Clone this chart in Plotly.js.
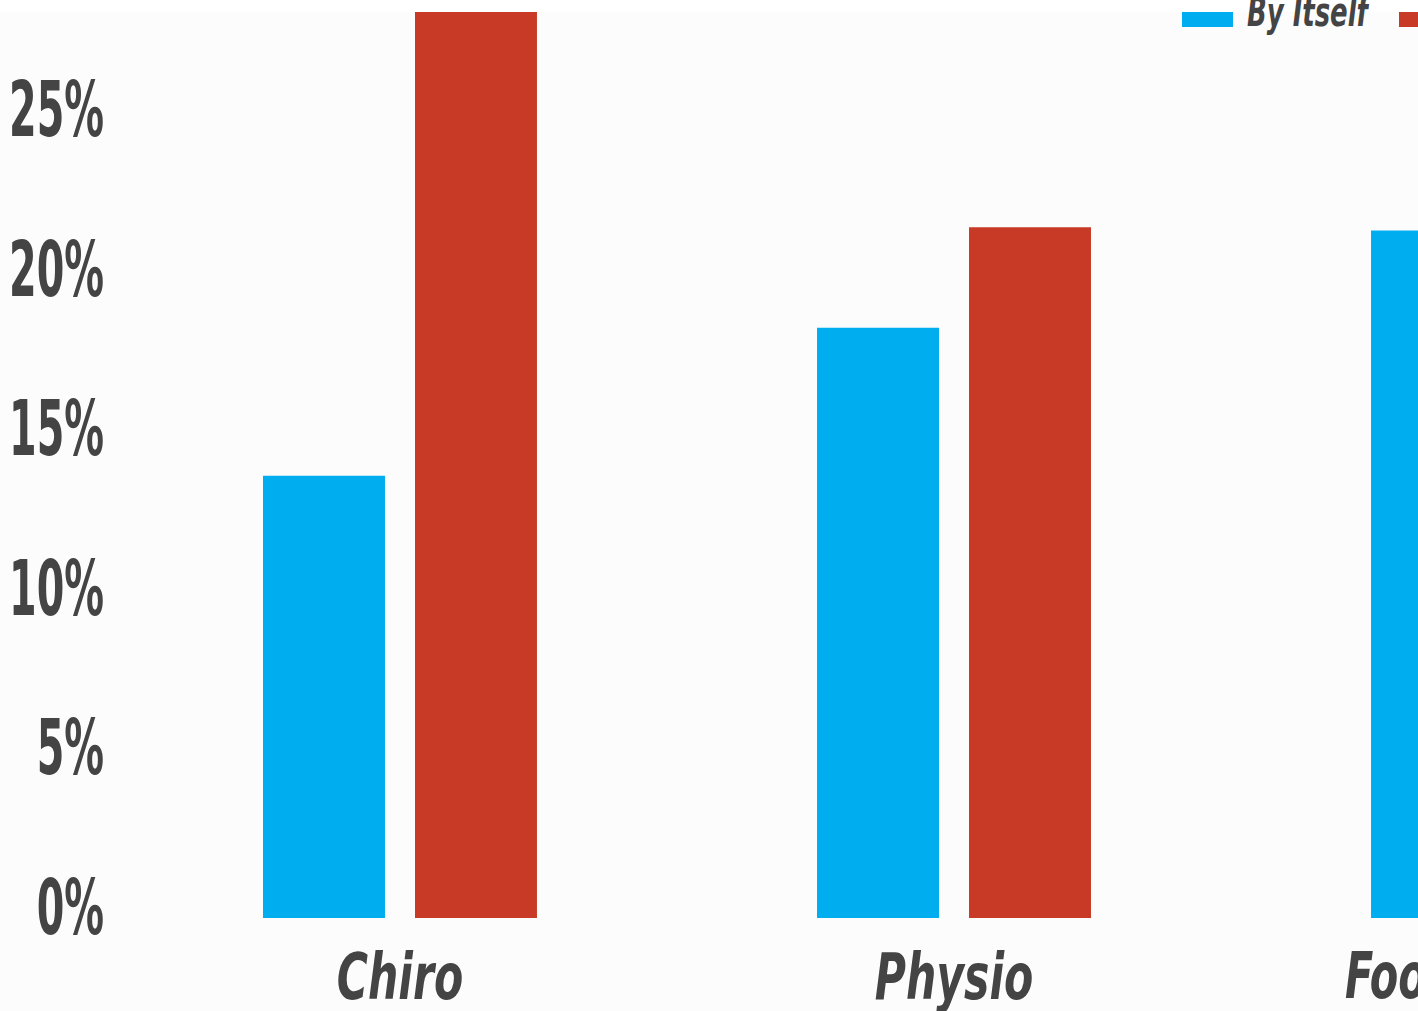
<!DOCTYPE html>
<html>
<head>
<meta charset="utf-8">
<script src="https://cdn.plot.ly/plotly-3.0.1.min.js"></script>
<style>
html,body{margin:0;padding:0;background:#ffffff;}
#chart{width:1418px;height:1011px;}
</style>
</head>
<body>
<div id="chart"></div>
<script>
// ---- data ----
var categories = ["Chiro", "Physio", "Footwear"];
var seriesNames = ["By Itself", "Combined"];
var byItself = [13.86, 18.5, 21.55];
var combined = [28.6, 21.65, 20.0];
var yTickVals = [0, 5, 10, 15, 20, 25];
var yTickText = ["0%", "5%", "10%", "15%", "20%", "25%"];

var colors = ["#00adee", "#c83a26"];
var textColor = "#444444";

var W = 1418, H = 1011;
var mL = 115, mR = 0, mT = 12, mB = 93;
var plotW = W - mL - mR, plotH = H - mT - mB;
function px2x(px){ return (px - mL) / plotW; }
function py2y(py){ return (H - mB - py) / plotH; }

var traces = [
  {type: "bar", name: seriesNames[0], x: categories, y: byItself, marker: {color: colors[0]}, hoverinfo: "skip"},
  {type: "bar", name: seriesNames[1], x: categories, y: combined, marker: {color: colors[1]}, hoverinfo: "skip"}
];

var yFont = "'DejaVu Sans Condensed', 'DejaVu Sans', sans-serif";
var xFont = "'DejaVu Sans Condensed', 'DejaVu Sans', sans-serif";

var layout = {
  width: W, height: H,
  margin: {l: mL, r: mR, t: mT, b: mB, autoexpand: false},
  paper_bgcolor: "#fcfcfc",
  plot_bgcolor: "#fcfcfc",
  showlegend: false,
  barmode: "group",
  bargap: 0.4513,
  bargroupgap: 0.1975,
  xaxis: {
    type: "category",
    range: [-0.5144, 1.8375],
    showgrid: false, zeroline: false, showline: false, ticks: "",
    ticklabelstandoff: 16,
    tickfont: {family: xFont, size: 64, color: textColor, weight: "bold", style: "italic"}
  },
  yaxis: {
    range: [0, 28.4],
    tickvals: yTickVals, ticktext: yTickText,
    showgrid: false, zeroline: false, showline: false, ticks: "",
    ticklabelstandoff: 10,
    ticklabelshift: -11,
    tickfont: {family: yFont, size: 76, color: textColor, weight: "bold"}
  },
  shapes: [
    {type: "rect", xref: "paper", yref: "paper", x0: px2x(-10), x1: px2x(W + 10), y0: py2y(12), y1: py2y(-10),
     fillcolor: "#ffffff", line: {width: 0}, layer: "above"},
    {type: "rect", xref: "paper", yref: "paper", x0: px2x(1182), x1: px2x(1233), y0: py2y(27), y1: py2y(12),
     fillcolor: colors[0], line: {width: 0}, layer: "above"},
    {type: "rect", xref: "paper", yref: "paper", x0: px2x(1399), x1: px2x(1450), y0: py2y(27), y1: py2y(12),
     fillcolor: colors[1], line: {width: 0}, layer: "above"}
  ],
  annotations: [
    {xref: "paper", yref: "paper", x: px2x(1245), y: py2y(12), xanchor: "left", yanchor: "middle",
     text: seriesNames[0], showarrow: false,
     font: {family: xFont, size: 40, color: textColor, weight: "bold", style: "italic"}},
    {xref: "paper", yref: "paper", x: px2x(1461), y: py2y(12), xanchor: "left", yanchor: "middle",
     text: seriesNames[1], showarrow: false,
     font: {family: xFont, size: 40, color: textColor, weight: "bold", style: "italic"}},
    {xref: "paper", yref: "paper", x: px2x(1343), y: py2y(976), xanchor: "left", yanchor: "middle",
     text: categories[2], showarrow: false,
     font: {family: xFont, size: 64, color: textColor, weight: "bold", style: "italic"}}
  ]
};

// squeeze text horizontally to imitate the narrow display faces of the original
function squeeze(sel, sx, anchor){
  document.querySelectorAll(sel).forEach(function(t){
    var b = t.getBBox();
    var ax = anchor === "end" ? b.x + b.width : (anchor === "start" ? b.x : b.x + b.width / 2);
    var tr = t.getAttribute("transform") || "";
    t.setAttribute("transform", tr + " translate(" + ax + ",0) scale(" + sx + ",1) translate(" + (-ax) + ",0)");
  });
}

Plotly.newPlot("chart", traces, layout, {displayModeBar: false, staticPlot: true}).then(function(){
  squeeze(".ytick text", 0.58, "end");
  squeeze(".xtick text", 0.74, "middle");
  squeeze(".annotation-text", 0.72, "start");
});
</script>
</body>
</html>
